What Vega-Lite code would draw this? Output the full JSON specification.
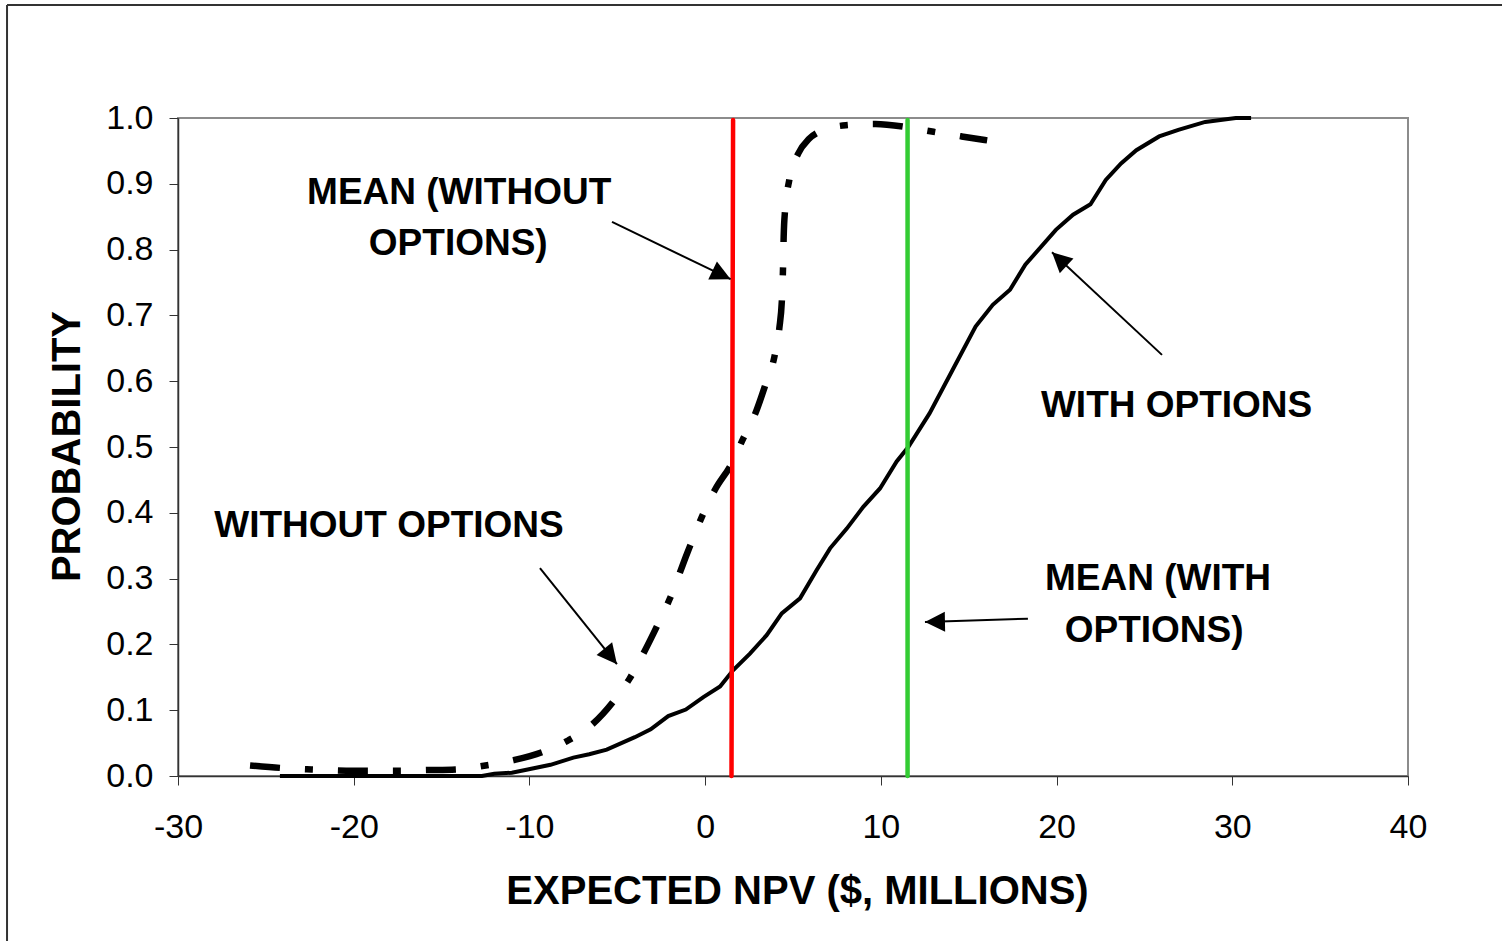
{
  "$schema": "https://vega.github.io/schema/vega-lite/v6.json",
  "width": 1230,
  "height": 658,
  "autosize": {"type": "none"},
  "padding": {"left": 178, "top": 118, "right": 94, "bottom": 165},
  "background": "white",
  "config": {
    "font": "Liberation Sans",
    "view": {"stroke": "#8c8c8c", "strokeWidth": 2},
    "axis": {
      "grid": false,
      "domainColor": "#333333",
      "domainWidth": 1.5,
      "tickColor": "#333333",
      "tickWidth": 1,
      "tickSize": 9,
      "labelColor": "#000000",
      "labelFontSize": 34,
      "labelFlush": false,
      "labelOverlap": false,
      "labelBound": false,
      "titleColor": "#000000",
      "titleFontSize": 40,
      "titleFontWeight": "bold"
    }
  },
  "datasets": {
    "with_options": [
      {"npv": -24.2, "p": 0.0}, {"npv": -12.7, "p": 0.0}, {"npv": -12.0, "p": 0.0035},
      {"npv": -11.0, "p": 0.005}, {"npv": -10.1, "p": 0.01}, {"npv": -8.8, "p": 0.017},
      {"npv": -7.5, "p": 0.028}, {"npv": -6.6, "p": 0.033}, {"npv": -5.6, "p": 0.04},
      {"npv": -4.0, "p": 0.059}, {"npv": -3.1, "p": 0.071}, {"npv": -2.1, "p": 0.091},
      {"npv": -1.1, "p": 0.101}, {"npv": -0.1, "p": 0.12}, {"npv": 0.85, "p": 0.136},
      {"npv": 1.6, "p": 0.161}, {"npv": 2.55, "p": 0.186}, {"npv": 3.5, "p": 0.214},
      {"npv": 4.36, "p": 0.247}, {"npv": 5.4, "p": 0.27}, {"npv": 6.35, "p": 0.313},
      {"npv": 7.11, "p": 0.346}, {"npv": 8.06, "p": 0.376}, {"npv": 9.0, "p": 0.409},
      {"npv": 9.95, "p": 0.437}, {"npv": 10.9, "p": 0.478}, {"npv": 11.56, "p": 0.5},
      {"npv": 12.77, "p": 0.551}, {"npv": 14.08, "p": 0.617}, {"npv": 15.39, "p": 0.683},
      {"npv": 16.37, "p": 0.716}, {"npv": 17.35, "p": 0.739}, {"npv": 18.22, "p": 0.777},
      {"npv": 19.96, "p": 0.83}, {"npv": 20.94, "p": 0.853}, {"npv": 21.93, "p": 0.869},
      {"npv": 22.8, "p": 0.906}, {"npv": 23.67, "p": 0.931}, {"npv": 24.54, "p": 0.951},
      {"npv": 25.84, "p": 0.972}, {"npv": 26.93, "p": 0.982}, {"npv": 28.46, "p": 0.994},
      {"npv": 30.2, "p": 1.0}, {"npv": 31.07, "p": 1.0}
    ],
    "without_options": [
      {"npv": -25.9, "p": 0.016}, {"npv": -24.0, "p": 0.012}, {"npv": -22.4, "p": 0.01},
      {"npv": -20.0, "p": 0.008}, {"npv": -17.5, "p": 0.008}, {"npv": -15.8, "p": 0.009},
      {"npv": -14.2, "p": 0.01}, {"npv": -12.5, "p": 0.016}, {"npv": -10.9, "p": 0.024},
      {"npv": -9.2, "p": 0.037}, {"npv": -7.8, "p": 0.054}, {"npv": -6.4, "p": 0.079},
      {"npv": -5.2, "p": 0.114}, {"npv": -4.3, "p": 0.148}, {"npv": -3.5, "p": 0.187},
      {"npv": -2.7, "p": 0.23}, {"npv": -2.0, "p": 0.27}, {"npv": -1.0, "p": 0.34},
      {"npv": 0.0, "p": 0.405}, {"npv": 0.56, "p": 0.435}, {"npv": 1.51, "p": 0.475},
      {"npv": 2.17, "p": 0.513}, {"npv": 2.9, "p": 0.554}, {"npv": 3.46, "p": 0.597},
      {"npv": 3.94, "p": 0.637}, {"npv": 4.22, "p": 0.68}, {"npv": 4.38, "p": 0.73},
      {"npv": 4.43, "p": 0.77}, {"npv": 4.47, "p": 0.82}, {"npv": 4.55, "p": 0.86},
      {"npv": 4.79, "p": 0.906}, {"npv": 5.3, "p": 0.946}, {"npv": 5.9, "p": 0.968},
      {"npv": 6.5, "p": 0.979}, {"npv": 8.0, "p": 0.989}, {"npv": 9.7, "p": 0.991},
      {"npv": 11.5, "p": 0.986}, {"npv": 13.0, "p": 0.979}, {"npv": 14.6, "p": 0.972},
      {"npv": 16.05, "p": 0.966}
    ],
    "means": [
      {"series": "Without options", "xb": 1.5, "xt": 1.59},
      {"series": "With options", "xb": 11.52, "xt": 11.52}
    ],
    "labels": [
      {"text": "MEAN (WITHOUT", "x": -14.0, "y": 0.886},
      {"text": "OPTIONS)", "x": -14.05, "y": 0.808},
      {"text": "WITH OPTIONS", "x": 26.83, "y": 0.563},
      {"text": "WITHOUT OPTIONS", "x": -17.99, "y": 0.38},
      {"text": "MEAN (WITH", "x": 25.77, "y": 0.299},
      {"text": "OPTIONS)", "x": 25.55, "y": 0.221}
    ],
    "arrows": [
      {"x": -5.3, "y": 0.842, "x2": 1.45, "y2": 0.755, "dir": 115.6},
      {"x": 26.0, "y": 0.64, "x2": 19.74, "y2": 0.796, "dir": 313.1},
      {"x": -9.4, "y": 0.316, "x2": -5.02, "y2": 0.17, "dir": 141},
      {"x": 18.37, "y": 0.239, "x2": 12.51, "y2": 0.234, "dir": 269}
    ],
    "frame": [
      {"x": -39.73, "y": 1.1717, "x2": 45.4, "y2": 1.1717},
      {"x": -39.73, "y": 1.1717, "x2": -39.73, "y2": -0.26}
    ]
  },
  "layer": [
    {
      "data": {"name": "with_options"},
      "mark": {"type": "line", "color": "#000000", "strokeWidth": 4, "interpolate": "linear", "clip": false},
      "encoding": {
        "x": {
          "field": "npv", "type": "quantitative",
          "scale": {"domain": [-30, 40], "nice": false, "zero": false},
          "axis": {
            "values": [-30, -20, -10, 0, 10, 20, 30, 40],
            "labelExpr": "datum.value < 0 ? '-' + abs(datum.value) : '' + datum.value",
            "labelPadding": 25,
            "title": "EXPECTED NPV ($, MILLIONS)",
            "titleX": 619, "titleY": 115, "titleAlign": "center", "titleBaseline": "middle"
          }
        },
        "y": {
          "field": "p", "type": "quantitative",
          "scale": {"domain": [0, 1], "nice": false, "zero": false},
          "axis": {
            "values": [0, 0.1, 0.2, 0.3, 0.4, 0.5, 0.6, 0.7, 0.8, 0.9, 1.0],
            "format": ".1f",
            "labelPadding": 16,
            "title": "PROBABILITY",
            "titleAngle": -90, "titleX": -111, "titleY": 328, "titleAlign": "center", "titleBaseline": "middle"
          }
        }
      }
    },
    {
      "data": {"name": "without_options"},
      "mark": {"type": "line", "color": "#000000", "strokeWidth": 6.5, "interpolate": "monotone", "strokeDash": [30, 25, 8, 25], "strokeCap": "butt"},
      "encoding": {
        "x": {"field": "npv", "type": "quantitative"},
        "y": {"field": "p", "type": "quantitative"}
      }
    },
    {
      "data": {"name": "means"},
      "mark": {"type": "rule", "strokeWidth": 4.5, "strokeCap": "round"},
      "encoding": {
        "x": {"field": "xb", "type": "quantitative"},
        "x2": {"field": "xt"},
        "y": {"datum": 0, "type": "quantitative"},
        "y2": {"datum": 0.997},
        "color": {"field": "series", "type": "nominal", "scale": {"domain": ["Without options", "With options"], "range": ["#ff0000", "#33cc33"]}, "legend": null}
      }
    },
    {
      "data": {"name": "arrows"},
      "mark": {"type": "rule", "color": "#000000", "strokeWidth": 2},
      "encoding": {
        "x": {"field": "x", "type": "quantitative"},
        "y": {"field": "y", "type": "quantitative"},
        "x2": {"field": "x2"},
        "y2": {"field": "y2"}
      }
    },
    {
      "data": {"name": "arrows"},
      "mark": {"type": "point", "shape": "M0,0L-0.5,1L0.5,1Z", "filled": true, "color": "#000000", "opacity": 1, "size": 1600, "strokeWidth": 0},
      "encoding": {
        "x": {"field": "x2", "type": "quantitative"},
        "y": {"field": "y2", "type": "quantitative"},
        "angle": {"field": "dir", "type": "quantitative", "scale": null}
      }
    },
    {
      "data": {"name": "labels"},
      "mark": {"type": "text", "fontSize": 37, "fontWeight": "bold", "color": "#000000", "align": "center", "baseline": "middle"},
      "encoding": {
        "x": {"field": "x", "type": "quantitative"},
        "y": {"field": "y", "type": "quantitative"},
        "text": {"field": "text", "type": "nominal"}
      }
    },
    {
      "data": {"name": "frame"},
      "mark": {"type": "rule", "color": "#333333", "strokeWidth": 2},
      "encoding": {
        "x": {"field": "x", "type": "quantitative"},
        "y": {"field": "y", "type": "quantitative"},
        "x2": {"field": "x2"},
        "y2": {"field": "y2"}
      }
    }
  ]
}
